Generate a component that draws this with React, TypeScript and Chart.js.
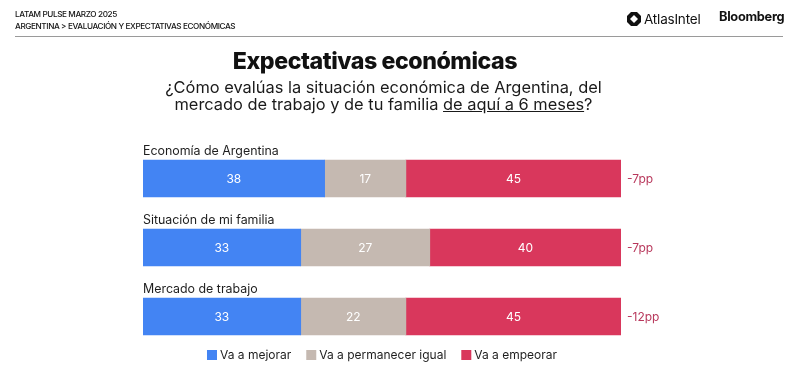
import React, { useEffect, useRef } from "react";
import { Chart, registerables } from "chart.js";

Chart.register(...registerables);

const categories = ["Economía de Argentina", "Situación de mi familia", "Mercado de trabajo"];
const mejorar = [38, 33, 33];
const igual = [17, 27, 22];
const empeorar = [45, 40, 45];
const seriesLabels = ["Va a mejorar", "Va a permanecer igual", "Va a empeorar"];
const seriesColors = ["#4384f3", "#c5b9b1", "#d9375c"];

const FONT = "Inter, 'Noto Sans', sans-serif";

// Segment values, row titles, net balance and a centred legend drawn on the canvas
const annotations = {
  id: "annotations",
  afterDatasetsDraw(chart: any) {
    const { ctx, chartArea } = chart;
    ctx.save();
    // values inside each segment
    ctx.font = `400 12px ${FONT}`;
    ctx.textAlign = "center";
    ctx.textBaseline = "middle";
    ctx.fillStyle = "#ffffff";
    chart.data.datasets.forEach((ds: any, di: number) => {
      const meta = chart.getDatasetMeta(di);
      meta.data.forEach((el: any, i: number) => {
        const p = el.getProps(["x", "y", "base"], true);
        ctx.fillText(String(ds.data[i]), (p.x + p.base) / 2, p.y + 0.5);
      });
    });
    // row titles and net balance
    const meta0 = chart.getDatasetMeta(0);
    meta0.data.forEach((el: any, i: number) => {
      const p = el.getProps(["y", "height"], true);
      ctx.font = `400 12.4px ${FONT}`;
      ctx.textAlign = "left";
      ctx.textBaseline = "alphabetic";
      ctx.fillStyle = "#1e1e1e";
      ctx.fillText(categories[i], chartArea.left, p.y - p.height / 2 - 5);
      const net = mejorar[i] - empeorar[i];
      ctx.font = `400 12px ${FONT}`;
      ctx.textBaseline = "middle";
      ctx.fillStyle = "#b8385c";
      ctx.fillText(`${net > 0 ? "+" : "-"}${Math.abs(net)}pp`, chartArea.right + 6, p.y + 1);
    });
    // legend
    ctx.font = `400 12px ${FONT}`;
    const box = 10;
    const gapText = 3;
    const gapItem = 15;
    const widths = chart.data.datasets.map((ds: any) => box + gapText + ctx.measureText(ds.label).width);
    const total = widths.reduce((a: number, b: number) => a + b, 0) + gapItem * (widths.length - 1);
    let x = (chartArea.left + chartArea.right) / 2 - total / 2;
    const y = 355;
    ctx.textAlign = "left";
    ctx.textBaseline = "middle";
    chart.data.datasets.forEach((ds: any, di: number) => {
      ctx.fillStyle = ds.backgroundColor;
      ctx.fillRect(x, y - box / 2, box, box);
      ctx.fillStyle = "#1e1e1e";
      ctx.fillText(ds.label, x + box + gapText, y + 0.5);
      x += widths[di] + gapItem;
    });
    ctx.restore();
  },
};

function AtlasIcon() {
  return (
    <svg width="14" height="14" viewBox="0 0 14 14" style={{ display: "block" }}>
      <polygon points="4,0 10,0 14,4 14,10 10,14 4,14 0,10 0,4" fill="#111" />
      <polygon points="7,3 11,7 7,11 3,7" fill="#fff" />
    </svg>
  );
}

export default function App() {
  const canvasRef = useRef<HTMLCanvasElement | null>(null);

  useEffect(() => {
    const canvas = canvasRef.current;
    if (!canvas) return;
    const values = [mejorar, igual, empeorar];
    const chart = new Chart(canvas, {
      type: "bar",
      data: {
        labels: categories,
        datasets: seriesLabels.map((label, i) => ({
          label,
          data: values[i],
          backgroundColor: seriesColors[i],
          borderWidth: 0,
          barThickness: 37,
        })),
      },
      options: {
        indexAxis: "y",
        responsive: false,
        animation: false,
        devicePixelRatio: 1,
        layout: { padding: { left: 143, right: 169, top: 144, bottom: 26 } },
        scales: {
          x: { stacked: true, min: 0, max: 100, display: false },
          y: { stacked: true, display: false },
        },
        plugins: {
          legend: { display: false },
          tooltip: { enabled: false },
        },
      },
      plugins: [annotations],
    });
    return () => chart.destroy();
  }, []);

  return (
    <div style={{ position: "absolute", left: 0, top: 0, width: 790, height: 377, background: "#fff", overflow: "hidden", fontFamily: FONT, color: "#111" }}>
      <canvas ref={canvasRef} width={790} height={377} style={{ position: "absolute", left: 0, top: 0 }} />
      <div style={{ position: "absolute", left: 15, top: 9, fontWeight: 500, fontSize: 8.2, letterSpacing: -0.4, lineHeight: "11.5px" }}>
        <div>LATAM PULSE MARZO 2025</div>
        <div>ARGENTINA &gt; EVALUACIÓN Y EXPECTATIVAS ECONÓMICAS</div>
      </div>
      <div style={{ position: "absolute", left: 627, top: 11, display: "flex", alignItems: "center" }}>
        <AtlasIcon />
        <span style={{ marginLeft: 3, fontSize: 13.5, fontWeight: 400, letterSpacing: -0.2 }}>AtlasIntel</span>
      </div>
      <div style={{ position: "absolute", left: 719, top: 9, fontSize: 12.8, fontWeight: 700, letterSpacing: -0.3 }}>Bloomberg</div>
      <div style={{ position: "absolute", left: 15, top: 36, width: 768, height: 1, background: "#9a9a9a" }} />
      <div style={{ position: "absolute", left: 0, top: 47, width: 750, textAlign: "center", fontSize: 23.2, fontWeight: 800, letterSpacing: -0.45 }}>
        Expectativas económicas
      </div>
      <div style={{ position: "absolute", left: 0, top: 79, width: 767, textAlign: "center", fontSize: 16.4, fontWeight: 400, lineHeight: "16.5px", color: "#1a1a1a" }}>
        <div>¿Cómo evalúas la situación económica de Argentina, del</div>
        <div>
          mercado de trabajo y de tu familia <span style={{ textDecoration: "underline" }}>de aquí a 6 meses</span>?
        </div>
      </div>
    </div>
  );
}
